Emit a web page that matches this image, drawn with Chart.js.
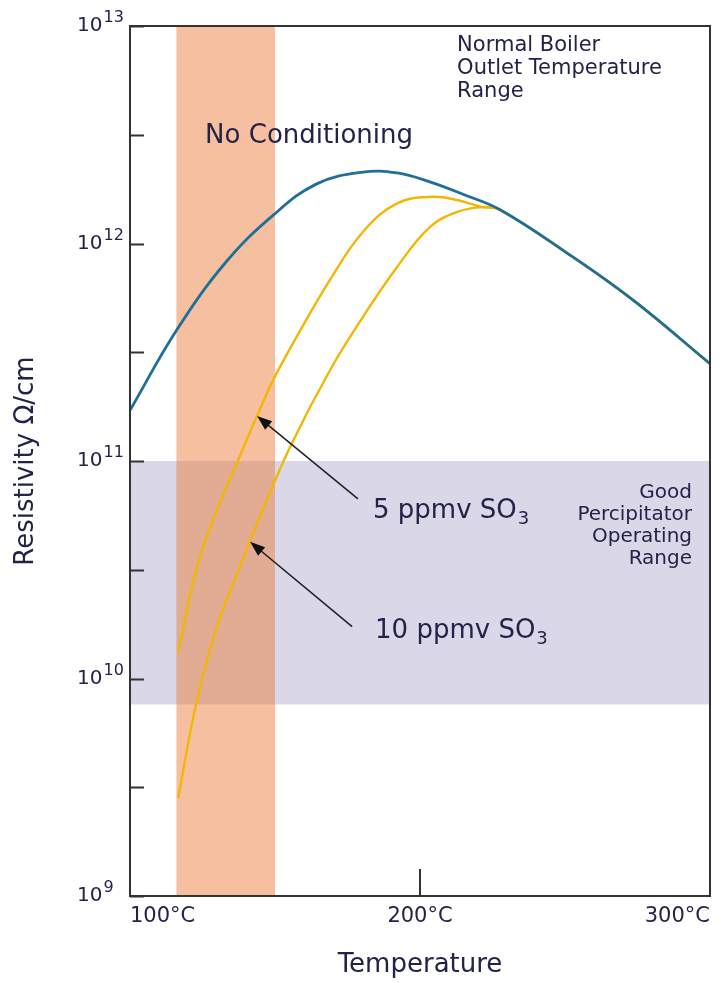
<!DOCTYPE html>
<html>
<head>
<meta charset="utf-8">
<script src="https://cdn.jsdelivr.net/npm/chart.js@4.4.1/dist/chart.umd.min.js"></script>
<style>
  html, body { margin: 0; padding: 0; background: #fff; }
  #wrap { width: 724px; height: 983px; position: relative; }
</style>
</head>
<body>
<div id="wrap"><canvas id="chart"></canvas></div>
<script>
// curves: temperature (°C) -> resistivity (ohm/cm)
const noCondTemps = [100, 116.1, 133.1, 149.4, 164.4, 180.3, 192.1, 203.4, 215.0, 227.6, 250.7, 273.4, 300];
const noCondValues = [1.71e11, 4.0e11, 8.22e11, 1.35e12, 1.88e12, 2.13e12, 2.11e12, 1.92e12, 1.68e12, 1.43e12, 9.04e11, 5.50e11, 2.80e11];

const so3_5Temps = [116.6, 123.1, 130.0, 137.3, 143.8, 149.4, 157.5, 169.0, 180.3, 192.1, 204.5, 213.1, 221.7, 227.6, 250.7, 273.4, 300];
const so3_5Values = [1.31e10, 3.26e10, 5.96e10, 1.01e11, 1.61e11, 2.36e11, 3.73e11, 6.82e11, 1.13e12, 1.53e12, 1.64e12, 1.58e12, 1.47e12, 1.43e12, 9.04e11, 5.50e11, 2.80e11];

const so3_10Temps = [116.6, 123.1, 130.0, 137.9, 145.5, 155.2, 169.0, 180.3, 192.1, 203.4, 213.1, 221.7, 227.6, 250.7, 273.4, 300];
const so3_10Values = [2.82e9, 7.96e9, 1.73e10, 3.26e10, 5.83e10, 1.16e11, 2.62e11, 4.59e11, 7.80e11, 1.19e12, 1.40e12, 1.47e12, 1.43e12, 9.04e11, 5.50e11, 2.80e11];

// shaded ranges
const boilerRange = [116, 150];      // °C, "No Conditioning" band
const goodRange = [7.6e9, 1e11];     // ohm/cm, good precipitator range

// axis ticks
const xTicks = [100, 200, 300];
const xTickLabels = ["100°C", "200°C", "300°C"];
const yDecades = [1e9, 1e10, 1e11, 1e12, 1e13];
const yExponents = ["9", "10", "11", "12", "13"];
const yHalfTicks = [3.16e9, 3.16e10, 3.16e11, 3.16e12];

const FONT = "'DejaVu Sans', sans-serif";
const INK = "#23234a";

const toPoints = (xs, ys) => xs.map((t, i) => ({ x: t, y: ys[i] }));

function arrow(ctx, x0, y0, x1, y1) {
  const ang = Math.atan2(y1 - y0, x1 - x0);
  const c = Math.cos(ang), s = Math.sin(ang);
  const len = 15, half = 5.5;
  ctx.strokeStyle = "#222";
  ctx.fillStyle = "#111";
  ctx.lineWidth = 1.6;
  ctx.beginPath();
  ctx.moveTo(x0, y0);
  ctx.lineTo(x1 - c * len * 0.8, y1 - s * len * 0.8);
  ctx.stroke();
  ctx.beginPath();
  ctx.moveTo(x1, y1);
  ctx.lineTo(x1 - len * c + half * s, y1 - len * s - half * c);
  ctx.lineTo(x1 - len * c - half * s, y1 - len * s + half * c);
  ctx.closePath();
  ctx.fill();
}

function so3Label(ctx, lead, x, y) {
  ctx.fillStyle = INK;
  ctx.textAlign = "left";
  ctx.font = "26px " + FONT;
  ctx.fillText(lead + " SO", x, y);
  const w = ctx.measureText(lead + " SO").width;
  ctx.font = "18px " + FONT;
  ctx.fillText("3", x + w + 1, y + 6);
}

const decorations = {
  id: "decorations",
  beforeDatasetsDraw(chart) {
    const { ctx, chartArea: a, scales: { x, y } } = chart;
    ctx.save();
    const gTop = y.getPixelForValue(goodRange[1]);
    const gBot = y.getPixelForValue(goodRange[0]);
    ctx.fillStyle = "#dad8e8";
    ctx.fillRect(a.left, gTop, a.right - a.left, gBot - gTop);
    const l = x.getPixelForValue(boilerRange[0]);
    const r = x.getPixelForValue(boilerRange[1]);
    ctx.fillStyle = "rgba(236,121,53,0.47)";
    ctx.fillRect(l, a.top, r - l, a.bottom - a.top);
    ctx.restore();
  },
  afterDatasetsDraw(chart) {
    const { ctx, chartArea: a, scales: { x, y } } = chart;
    const px = (t) => x.getPixelForValue(t);
    const py = (v) => y.getPixelForValue(v);
    ctx.save();

    // frame
    ctx.strokeStyle = "#333";
    ctx.lineWidth = 2;
    ctx.strokeRect(a.left, a.top, a.right - a.left, a.bottom - a.top);

    // inward ticks
    ctx.beginPath();
    yDecades.concat(yHalfTicks).forEach((v) => {
      const yy = Math.round(py(v)) + 0.5;
      ctx.moveTo(a.left, yy);
      ctx.lineTo(a.left + 14, yy);
    });
    const xm = Math.round(px(xTicks[1]));
    ctx.moveTo(xm, a.bottom);
    ctx.lineTo(xm, a.bottom - 27);
    ctx.stroke();

    // y tick labels with superscript exponent
    ctx.fillStyle = INK;
    ctx.textAlign = "left";
    ctx.textBaseline = "alphabetic";
    yDecades.forEach((v, i) => {
      const yy = py(v);
      ctx.font = "20px " + FONT;
      ctx.fillText("10", a.left - 53, yy + 5);
      const w = ctx.measureText("10").width;
      ctx.font = "16px " + FONT;
      ctx.fillText(yExponents[i], a.left - 53 + w + 1, yy - 4);
    });

    // text notes
    ctx.font = "26px " + FONT;
    ctx.fillText("No Conditioning", px(125.9), py(2.9e12));

    ctx.font = "21px " + FONT;
    ["Normal Boiler", "Outlet Temperature", "Range"].forEach((s, i) => {
      ctx.fillText(s, px(212.8), py(7.67e12) + i * 23);
    });
    ctx.font = "20px " + FONT;
    ctx.textAlign = "right";
    ["Good", "Percipitator", "Operating", "Range"].forEach((s, i) => {
      ctx.fillText(s, px(293.8), py(6.76e10) + i * 22);
    });

    // SO3 labels and arrows
    so3Label(ctx, "5 ppmv", px(183.8), py(5.47e10));
    so3Label(ctx, "10 ppmv", px(184.5), py(1.53e10));
    arrow(ctx, px(178.6), py(6.7e10), px(143.8), py(1.61e11));
    arrow(ctx, px(176.6), py(1.73e10), px(141.4), py(4.25e10));

    ctx.restore();
  }
};

const ctx = document.getElementById("chart").getContext("2d");

const chart = new Chart(ctx, {
  type: "line",
  data: {
    datasets: [
      {
        label: "No conditioning",
        data: toPoints(noCondTemps, noCondValues),
        borderColor: "#1f6f98",
        borderWidth: 2.8,
      },
      {
        label: "5 ppmv SO3",
        data: toPoints(so3_5Temps, so3_5Values),
        borderColor: "#f2b705",
        borderWidth: 2.4,
      },
      {
        label: "10 ppmv SO3",
        data: toPoints(so3_10Temps, so3_10Values),
        borderColor: "#f2b705",
        borderWidth: 2.4,
      },
    ],
  },
  options: {
    responsive: true,
    maintainAspectRatio: false,
    animation: false,
    devicePixelRatio: 1,
    layout: { padding: { top: 26, right: 14, left: 0, bottom: 0 } },
    elements: {
      point: { radius: 0 },
      line: { tension: 0.4, fill: false },
    },
    plugins: {
      legend: { display: false },
      tooltip: { enabled: false },
    },
    scales: {
      x: {
        type: "linear",
        min: 100,
        max: 300,
        afterBuildTicks: (scale) => {
          scale.ticks = xTicks.map((v) => ({ value: v }));
        },
        afterFit: (scale) => { scale.height = 87; },
        ticks: {
          align: "inner",
          padding: 8,
          color: INK,
          font: { family: FONT, size: 21 },
          callback: (v) => xTickLabels[xTicks.indexOf(v)],
        },
        grid: { display: false, drawTicks: false },
        border: { display: false },
        title: {
          display: true,
          text: "Temperature",
          color: INK,
          font: { family: FONT, size: 26 },
          padding: { top: 0, bottom: 2 },
        },
      },
      y: {
        type: "logarithmic",
        min: 1e9,
        max: 1e13,
        afterFit: (scale) => { scale.width = 130; },
        ticks: { display: false },
        grid: { display: false, drawTicks: false },
        border: { display: false },
        title: {
          display: true,
          text: "Resistivity Ω/cm",
          color: INK,
          font: { family: FONT, size: 26 },
          padding: { top: 11, bottom: 0 },
        },
      },
    },
  },
  plugins: [decorations],
});
</script>
</body>
</html>
